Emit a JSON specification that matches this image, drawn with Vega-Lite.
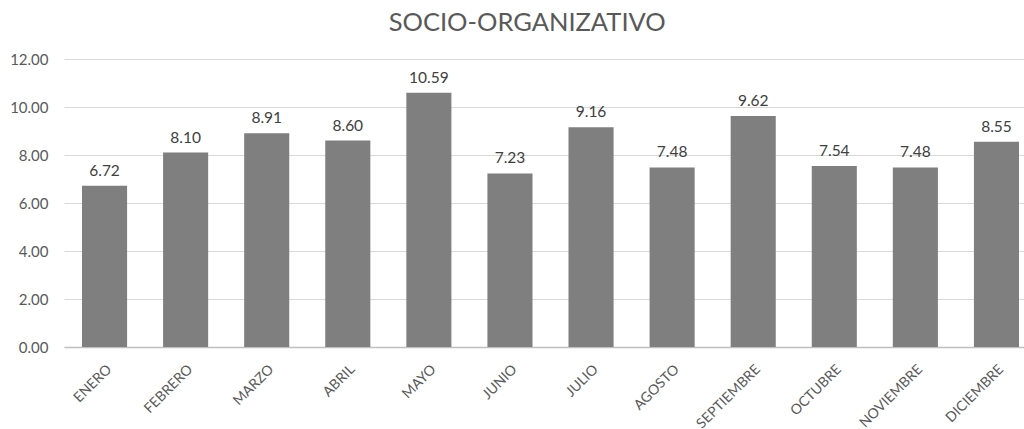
{
  "$schema": "https://vega.github.io/schema/vega-lite/v6.json",
  "width": 973,
  "height": 288,
  "autosize": {"type": "none"},
  "padding": {"left": 64, "top": 59, "right": 0, "bottom": 82},
  "background": "white",
  "title": {
    "text": "SOCIO-ORGANIZATIVO",
    "font": "Lato",
    "fontSize": 25.5,
    "fontWeight": "normal",
    "color": "#595959",
    "anchor": "start",
    "dx": 379,
    "offset": 16
  },
  "data": {
    "values": [
      {"mes": "ENERO", "valor": 6.72},
      {"mes": "FEBRERO", "valor": 8.10},
      {"mes": "MARZO", "valor": 8.91},
      {"mes": "ABRIL", "valor": 8.60},
      {"mes": "MAYO", "valor": 10.59},
      {"mes": "JUNIO", "valor": 7.23},
      {"mes": "JULIO", "valor": 9.16},
      {"mes": "AGOSTO", "valor": 7.48},
      {"mes": "SEPTIEMBRE", "valor": 9.62},
      {"mes": "OCTUBRE", "valor": 7.54},
      {"mes": "NOVIEMBRE", "valor": 7.48},
      {"mes": "DICIEMBRE", "valor": 8.55}
    ]
  },
  "encoding": {
    "x": {
      "field": "mes",
      "type": "nominal",
      "sort": null,
      "scale": {"paddingInner": 0.444, "paddingOuter": 0.222},
      "axis": {
        "title": null,
        "labelAngle": -45,
        "labelFont": "Lato",
        "labelFontSize": 14,
        "labelColor": "#595959",
        "ticks": false,
        "domainColor": "#bfbfbf",
        "domainWidth": 1.5,
        "labelPadding": 15
      }
    },
    "y": {
      "field": "valor",
      "type": "quantitative",
      "scale": {"domain": [0, 12]},
      "axis": {
        "title": null,
        "values": [0, 2, 4, 6, 8, 10, 12],
        "format": ".2f",
        "labelFont": "Lato",
        "labelFontSize": 15,
        "labelColor": "#595959",
        "labelPadding": 16,
        "ticks": false,
        "domain": false,
        "gridColor": "#d9d9d9",
        "gridWidth": 1.2
      }
    }
  },
  "layer": [
    {"mark": {"type": "bar", "color": "#7f7f7f"}},
    {
      "mark": {"type": "text", "dy": -10, "font": "Lato", "fontSize": 15.5, "color": "#404040", "baseline": "alphabetic"},
      "encoding": {"text": {"field": "valor", "type": "quantitative", "format": ".2f"}}
    }
  ],
  "config": {"view": {"stroke": null}}
}
